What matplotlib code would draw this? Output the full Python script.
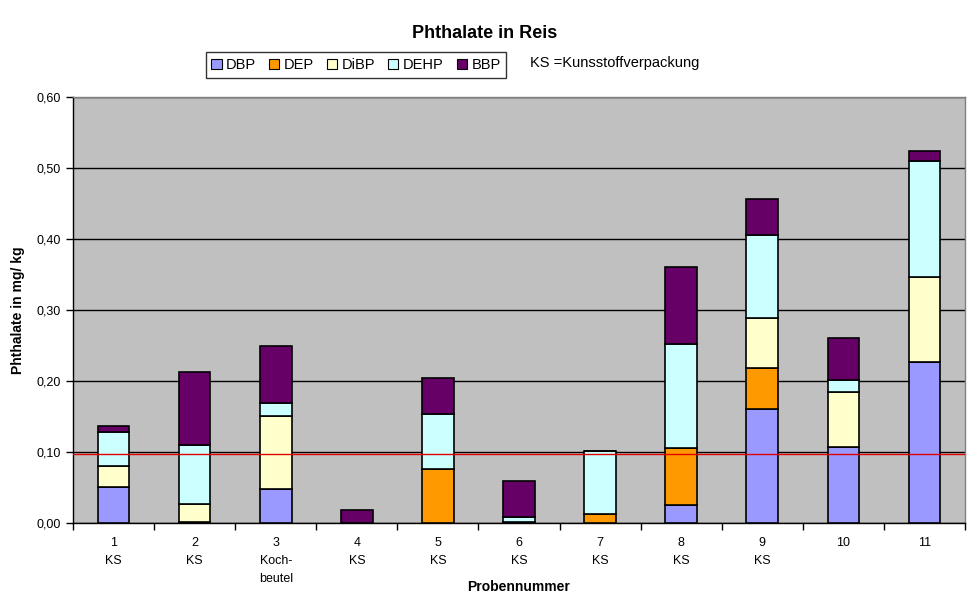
import matplotlib
matplotlib.use("Agg")
import matplotlib.pyplot as plt
import numpy as np
from matplotlib.patches import Patch

plt.rcParams['font.family'] = ['Liberation Sans', 'DejaVu Sans']

samples = ["1\nKS", "2\nKS", "3\nKoch-\nbeutel", "4\nKS", "5\nKS", "6\nKS", "7\nKS",
           "8\nKS", "9\nKS", "10", "11"]
DBP  = [0.051, 0.001, 0.048, 0.000, 0.000, 0.001, 0.000, 0.025, 0.161, 0.107, 0.227]
DEP  = [0.000, 0.000, 0.000, 0.000, 0.076, 0.000, 0.012, 0.080, 0.057, 0.000, 0.000]
DiBP = [0.029, 0.026, 0.103, 0.000, 0.000, 0.000, 0.000, 0.000, 0.071, 0.078, 0.120]
DEHP = [0.048, 0.083, 0.018, 0.000, 0.077, 0.008, 0.089, 0.147, 0.117, 0.017, 0.163]
BBP  = [0.009, 0.102, 0.080, 0.019, 0.051, 0.050, 0.000, 0.109, 0.051, 0.058, 0.014]
limit = 0.097

series = [("DBP", DBP, "#9999FF"), ("DEP", DEP, "#FF9900"), ("DiBP", DiBP, "#FFFFCC"),
          ("DEHP", DEHP, "#CCFFFF"), ("BBP", BBP, "#660066")]

fig = plt.figure(figsize=(9.7, 6.04), dpi=100)
ax = fig.add_axes([73/970, 81/604, 892/970, 426/604])
ax.set_facecolor("#C0C0C0")

x = np.arange(len(samples))
bottom = np.zeros(len(samples))
for name, vals, col in series:
    v = np.array(vals)
    ax.bar(x, v, width=0.39, bottom=bottom, color=col, edgecolor="black", linewidth=1.2, zorder=3)
    bottom += v

ax.axhline(limit, color="#E00000", linewidth=1.0, zorder=4)

ax.set_xlim(-0.5, len(samples) - 0.5)
ax.set_ylim(0, 0.6)
ax.set_yticks(np.arange(0, 0.61, 0.1))
ax.set_yticklabels([f"{t:.2f}".replace(".", ",") for t in np.arange(0, 0.61, 0.1)], fontsize=9)
ax.yaxis.grid(True, color="black", linewidth=1.0, zorder=1)
ax.set_axisbelow(True)

ax.set_xticks(x)
ax.set_xticklabels(samples, fontsize=9, linespacing=1.65, va="top")
ax.set_xticks(np.arange(-0.5, len(samples), 1.0), minor=True)
ax.tick_params(axis="x", which="major", length=0, pad=10)
ax.tick_params(axis="x", which="minor", length=5, width=1, direction="out")
ax.tick_params(axis="y", length=5, width=1, direction="out", pad=4)

for s in ["left", "bottom"]:
    ax.spines[s].set_color("black")
    ax.spines[s].set_linewidth(1.0)
for s in ["top", "right"]:
    ax.spines[s].set_color("#808080")
    ax.spines[s].set_linewidth(1.0)

ax.set_xlabel("Probennummer", fontsize=10, fontweight="bold", labelpad=-3)
ax.set_ylabel("Phthalate in mg/ kg", fontsize=10, fontweight="bold", labelpad=8)

fig.text(0.5, 1 - 33/604, "Phthalate in Reis", ha="center", va="center",
         fontsize=13, fontweight="bold")

handles = [Patch(facecolor=c, edgecolor="black", linewidth=0.8, label=n) for n, _, c in series]
leg = fig.legend(handles=handles, loc="center", bbox_to_anchor=(356/970, 1 - 65/604),
                 ncol=5, frameon=True, fontsize=10.5, handlelength=0.7, handleheight=0.7,
                 handletextpad=0.3, columnspacing=0.9, borderpad=0.4, fancybox=False,
                 edgecolor="black")
leg.get_frame().set_linewidth(1.0)

fig.text(530/970, 1 - 63/604, "KS =Kunsstoffverpackung", ha="left", va="center", fontsize=10.5)

fig.savefig("out.png", dpi=100, facecolor="white")
